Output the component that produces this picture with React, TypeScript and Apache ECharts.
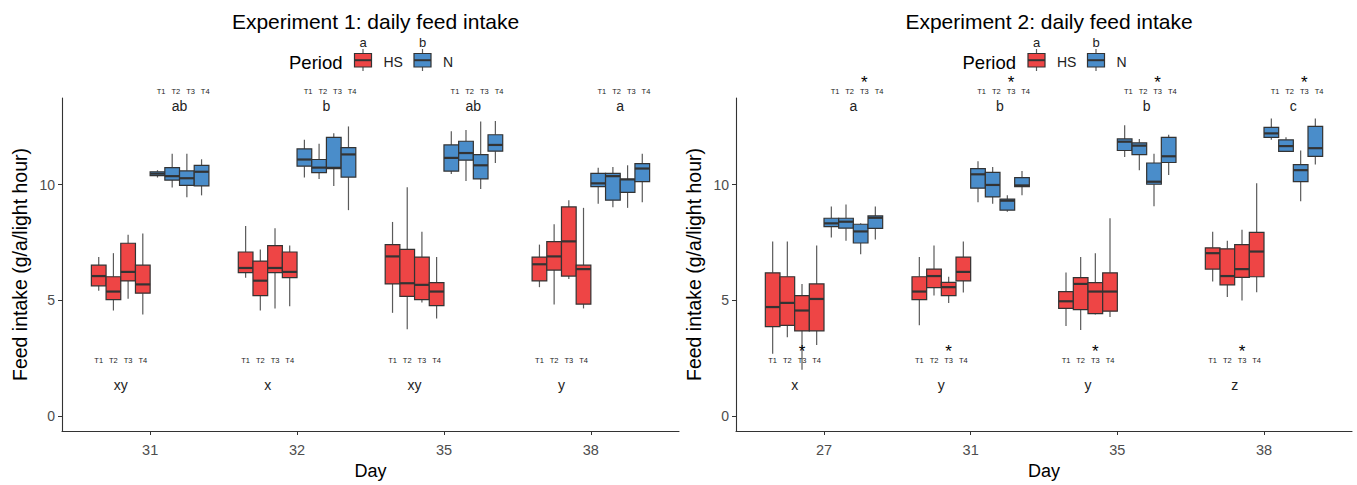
import React, { useEffect, useRef } from "react";
import * as echarts from "echarts";

const treatments = ["T1", "T2", "T3", "T4"];
const periods = ["HS", "N"];
const exp1Days = ["31", "32", "35", "38"];
const exp2Days = ["27", "31", "35", "38"];
const exp1Title = "Experiment 1: daily feed intake";
const exp2Title = "Experiment 2: daily feed intake";
const periodLetters = ["a", "b"];
const exp1TopLetters = ["ab", "b", "ab", "a"];
const exp1BottomLetters = ["xy", "x", "xy", "y"];
const exp2TopLetters = ["a", "b", "b", "c"];
const exp2BottomLetters = ["x", "y", "y", "z"];
const exp2StarTreatment = "T3";
const yTicks = [0, 5, 10];

// [low whisker, Q1, median, Q3, high whisker] per day, per treatment
const exp1HS = [
  [[5.41, 5.63, 6.05, 6.52, 6.87], [4.56, 5.03, 5.38, 6.02, 7.04], [5.07, 5.84, 6.23, 7.47, 7.84], [4.39, 5.31, 5.69, 6.52, 7.89]],
  [[5.98, 6.2, 6.4, 7.09, 8.22], [4.56, 5.2, 5.85, 6.7, 7.2], [4.65, 6.2, 6.4, 7.37, 8.12], [4.74, 5.98, 6.23, 7.09, 7.37]],
  [[4.46, 5.71, 6.9, 7.41, 8.39], [3.75, 5.17, 5.74, 7.2, 9.89], [4.91, 5.03, 5.67, 6.87, 7.97], [4.22, 4.77, 5.38, 5.77, 6.87]],
  [[5.57, 5.84, 6.56, 6.87, 7.41], [4.82, 6.31, 6.9, 7.54, 8.29], [5.92, 6.05, 7.55, 9.04, 9.33], [4.65, 4.84, 6.35, 6.52, 9.0]],
];
const exp1N = [
  [[10.31, 10.39, 10.48, 10.56, 10.63], [9.88, 10.2, 10.37, 10.74, 11.34], [9.46, 9.97, 10.28, 10.6, 11.34], [9.54, 9.95, 10.56, 10.84, 11.1]],
  [[10.31, 10.8, 11.09, 11.55, 11.94], [10.25, 10.52, 10.74, 11.09, 11.77], [9.95, 10.7, 10.73, 12.05, 12.23], [8.9, 10.33, 11.31, 11.6, 12.52]],
  [[10.46, 10.59, 11.16, 11.72, 12.31], [10.16, 11.06, 11.37, 11.88, 12.37], [9.82, 10.25, 10.84, 11.3, 12.73], [10.94, 11.45, 11.72, 12.16, 12.76]],
  [[9.18, 9.92, 10.06, 10.49, 10.73], [9.03, 9.33, 10.37, 10.49, 10.77], [9.0, 9.67, 10.23, 10.23, 10.84], [9.24, 10.13, 10.7, 10.91, 11.34]],
];
const exp2HS = [
  [[2.69, 3.86, 4.71, 6.19, 7.55], [3.4, 3.92, 4.89, 6.02, 7.55], [2.0, 3.68, 4.56, 5.2, 5.71], [3.07, 3.68, 5.06, 5.71, 7.37]],
  [[3.92, 5.03, 5.38, 6.02, 6.87], [5.21, 5.55, 6.05, 6.35, 7.37], [4.89, 5.2, 5.57, 5.78, 6.02], [5.34, 5.84, 6.23, 6.87, 7.55]],
  [[3.89, 4.65, 4.96, 5.38, 6.2], [3.72, 4.6, 5.71, 5.98, 6.87], [4.39, 4.43, 5.38, 5.77, 7.04], [4.28, 4.53, 5.38, 6.19, 8.55]],
  [[5.81, 6.35, 7.04, 7.27, 7.97], [5.14, 5.67, 6.05, 7.23, 7.58], [4.99, 5.99, 6.35, 7.41, 8.05], [5.35, 6.02, 7.11, 7.94, 10.06]],
];
const exp2N = [
  [[7.72, 8.19, 8.33, 8.55, 9.06], [7.58, 8.12, 8.4, 8.55, 9.14], [6.99, 7.48, 7.98, 8.29, 8.33], [7.63, 8.11, 8.57, 8.65, 9.06]],
  [[9.24, 9.85, 10.45, 10.7, 11.01], [9.18, 9.47, 9.99, 10.53, 10.77], [8.83, 8.9, 9.31, 9.38, 9.54], [9.54, 9.92, 9.97, 10.31, 10.59]],
  [[11.2, 11.48, 11.86, 11.98, 12.57], [10.63, 11.3, 11.69, 11.81, 11.98], [9.07, 10.02, 10.13, 10.94, 11.34], [10.42, 10.96, 11.23, 12.05, 12.16]],
  [[11.94, 12.05, 12.22, 12.48, 12.86], [11.44, 11.44, 11.67, 11.94, 12.05], [9.28, 10.13, 10.63, 10.87, 11.48], [10.87, 11.23, 11.58, 12.52, 12.86]],
];

const FONT = "'Liberation Sans', Arial, sans-serif";
const COLORS: Record<string, string> = { HS: "#EE4545", N: "#4A8DCA" };
const BORDER = "#333333";
const WHISKER = "#5a5a5a";
const BOX_W = 0.1;
// y positions (data units) of annotation rows
const Y_TOP_T = 14.05;
const Y_TOP_LETTER = 13.41;
const Y_BOT_T = 2.42;
const Y_BOT_LETTER = 1.35;
const Y_TOP_STAR = 14.43;
const Y_BOT_STAR = 2.8;

const GRIDS = [
  { left: 62, top: 98, width: 617, height: 338 },
  { left: 736, top: 98, width: 616, height: 338 },
];

function boxX(dayIdx: number, periodIdx: number, tIdx: number) {
  return dayIdx + 1 + (periodIdx * 4 + tIdx - 3.5) * BOX_W;
}

function boxSeries(name: string, periodIdx: number, values: number[][][], gi: number) {
  const data: number[][] = [];
  values.forEach((day, d) =>
    day.forEach((v, t) => data.push([boxX(d, periodIdx, t), ...v]))
  );
  const fill = COLORS[name];
  return {
    type: "custom",
    name,
    xAxisIndex: gi,
    yAxisIndex: gi,
    clip: false,
    encode: { x: 0, y: [1, 2, 3, 4, 5] },
    data,
    renderItem: (params: any, api: any) => {
      const x = api.value(0);
      const lo = api.coord([x, api.value(1)]);
      const q1 = api.coord([x - BOX_W / 2, api.value(2)]);
      const md = api.coord([x, api.value(3)]);
      const q3 = api.coord([x + BOX_W / 2, api.value(4)]);
      const hi = api.coord([x, api.value(5)]);
      const xl = q1[0];
      const xr = q3[0];
      return {
        type: "group",
        children: [
          { type: "line", shape: { x1: lo[0], y1: lo[1], x2: lo[0], y2: q1[1] }, style: { stroke: WHISKER, lineWidth: 1.2 } },
          { type: "line", shape: { x1: hi[0], y1: hi[1], x2: hi[0], y2: q3[1] }, style: { stroke: WHISKER, lineWidth: 1.2 } },
          { type: "rect", shape: { x: xl, y: q3[1], width: xr - xl, height: q1[1] - q3[1] }, style: { fill, stroke: BORDER, lineWidth: 1.2 } },
          { type: "line", shape: { x1: xl, y1: md[1], x2: xr, y2: md[1] }, style: { stroke: BORDER, lineWidth: 2.2 } },
        ],
      };
    },
  };
}

type Note = { x: number; y: number; text: string; size: number };

function notes(top: string[], bottom: string[], stars: boolean): Note[] {
  const out: Note[] = [];
  for (let d = 0; d < 4; d++) {
    treatments.forEach((t, ti) => {
      out.push({ x: boxX(d, 1, ti) + 0.025, y: Y_TOP_T, text: t, size: 7.5 });
      out.push({ x: boxX(d, 0, ti), y: Y_BOT_T, text: t, size: 7.5 });
      if (stars && t === exp2StarTreatment) {
        out.push({ x: boxX(d, 1, ti) + 0.025, y: Y_TOP_STAR, text: "*", size: 17 });
        out.push({ x: boxX(d, 0, ti), y: Y_BOT_STAR, text: "*", size: 17 });
      }
    });
    out.push({ x: d + 1.2, y: Y_TOP_LETTER, text: top[d], size: 14 });
    out.push({ x: d + 0.8, y: Y_BOT_LETTER, text: bottom[d], size: 14 });
  }
  return out;
}

function textSeries(list: Note[], gi: number) {
  return {
    type: "custom",
    xAxisIndex: gi,
    yAxisIndex: gi,
    clip: false,
    silent: true,
    data: list.map((n) => [n.x, n.y]),
    renderItem: (params: any, api: any) => {
      const n = list[params.dataIndex];
      const p = api.coord([api.value(0), api.value(1)]);
      const isStar = n.text === "*";
      return {
        type: "text",
        x: p[0],
        y: p[1],
        style: {
          text: n.text,
          fontSize: n.size,
          lineHeight: isStar ? 3 : n.size,
          fontFamily: FONT,
          fill: isStar ? "#000" : "#222",
          align: "center",
          verticalAlign: "middle",
        },
      };
    },
  };
}

function legendGraphic(cx: number) {
  // cx = centre of the panel
  const off = cx - 370.5;
  const els: any[] = [];
  els.push({ type: "text", x: 289 + off, y: 62, style: { text: "Period", fontSize: 18.5, fontFamily: FONT, fill: "#000", verticalAlign: "middle" } });
  const icons = [354.5, 414];
  const labelsX = [383.5, 443];
  periods.forEach((p, i) => {
    const x0 = icons[i] + off;
    const w = 17;
    const mid = x0 + w / 2;
    els.push({ type: "line", shape: { x1: mid, y1: 49, x2: mid, y2: 71 }, style: { stroke: WHISKER, lineWidth: 1.2 } });
    els.push({ type: "rect", shape: { x: x0, y: 53.5, width: w, height: 13.5 }, style: { fill: COLORS[p], stroke: BORDER, lineWidth: 1.2 } });
    els.push({ type: "line", shape: { x1: x0, y1: 60.2, x2: x0 + w, y2: 60.2 }, style: { stroke: BORDER, lineWidth: 2 } });
    els.push({ type: "text", x: labelsX[i] + off, y: 62, style: { text: p, fontSize: 14, fontFamily: FONT, fill: "#222", verticalAlign: "middle" } });
    els.push({ type: "text", x: mid, y: 42, style: { text: periodLetters[i], fontSize: 13, fontFamily: FONT, fill: "#222", align: "center", verticalAlign: "middle" } });
  });
  return els;
}

function xAxis(gi: number, days: string[]) {
  return {
    type: "value",
    gridIndex: gi,
    min: 0.4,
    max: 4.6,
    splitLine: { show: false },
    axisLine: { show: true, onZero: false, lineStyle: { color: "#333", width: 1.1 } },
    axisTick: { show: true, customValues: [1, 2, 3, 4], length: 4, lineStyle: { color: "#333" } },
    axisLabel: {
      customValues: [1, 2, 3, 4],
      formatter: (v: number) => days[Math.round(v) - 1],
      color: "#4D4D4D",
      fontSize: 14.5,
      fontFamily: FONT,
      margin: 11,
    },
    name: "Day",
    nameLocation: "middle",
    nameGap: 31,
    nameTextStyle: { fontSize: 18, fontFamily: FONT, color: "#000" },
  };
}

function yAxis(gi: number) {
  return {
    type: "value",
    gridIndex: gi,
    min: -0.65,
    max: 13.75,
    splitLine: { show: false },
    axisLine: { show: true, onZero: false, lineStyle: { color: "#333", width: 1.1 } },
    axisTick: { show: true, customValues: yTicks, length: 4, lineStyle: { color: "#333" } },
    axisLabel: { customValues: yTicks, color: "#4D4D4D", fontSize: 14, fontFamily: FONT, margin: 7 },
    name: "Feed intake (g/a/light hour)",
    nameLocation: "middle",
    nameGap: 32,
    nameRotate: 90,
    nameTextStyle: { fontSize: 19.5, fontFamily: FONT, color: "#000" },
  };
}

export default function App() {
  const ref = useRef<HTMLDivElement>(null);
  useEffect(() => {
    if (!ref.current) return;
    const chart = echarts.init(ref.current, undefined, { renderer: "svg" });
    const centers = GRIDS.map((g) => g.left + g.width / 2);
    chart.setOption({
      animation: false,
      backgroundColor: "#fff",
      title: [
        { text: exp1Title, left: centers[0], top: 6, textAlign: "center", textStyle: { fontSize: 21, fontWeight: "normal", fontFamily: FONT, color: "#000" } },
        { text: exp2Title, left: centers[1], top: 6, textAlign: "center", textStyle: { fontSize: 21, fontWeight: "normal", fontFamily: FONT, color: "#000" } },
      ],
      grid: GRIDS,
      xAxis: [xAxis(0, exp1Days), xAxis(1, exp2Days)],
      yAxis: [yAxis(0), yAxis(1)],
      graphic: [...legendGraphic(centers[0]), ...legendGraphic(centers[1])],
      series: [
        boxSeries("HS", 0, exp1HS, 0),
        boxSeries("N", 1, exp1N, 0),
        boxSeries("HS", 0, exp2HS, 1),
        boxSeries("N", 1, exp2N, 1),
        textSeries(notes(exp1TopLetters, exp1BottomLetters, false), 0),
        textSeries(notes(exp2TopLetters, exp2BottomLetters, true), 1),
      ],
    });
    return () => chart.dispose();
  }, []);
  return (
    <div
      ref={ref}
      style={{ position: "fixed", left: 0, top: 0, width: 1357, height: 485, background: "#fff" }}
    />
  );
}
